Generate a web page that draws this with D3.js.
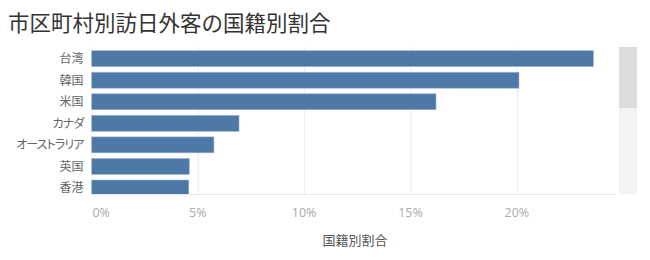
<!DOCTYPE html>
<html>
<head>
<meta charset="utf-8">
<script src="https://cdn.jsdelivr.net/npm/d3@7"></script>
<style>
  body { margin: 0; background: #fff; }
  svg { display: block; }
  text { font-family: "Noto Sans CJK JP", "Noto Sans", sans-serif; }
</style>
</head>
<body>
<svg id="chart" width="650" height="260"></svg>
<script>
const categories = ["台湾", "韓国", "米国", "カナダ", "オーストラリア", "英国", "香港"];
const values = [23.6, 20.1, 16.2, 6.94, 5.76, 4.6, 4.58];
const tickValues = [0, 5, 10, 15, 20];
const tickLabels = ["0%", "5%", "10%", "15%", "20%"];
const title = "市区町村別訪日外客の国籍別割合";
const axisTitle = "国籍別割合";

const svg = d3.select("#chart");
const plot = { left: 91.4, right: 616, top: 47, bottom: 194 };

const x = d3.scaleLinear().domain([0, 24.66]).range([plot.left, plot.right]);
const y = d3.scaleBand().domain(categories)
  .range([47.9, 47.9 + categories.length * 21.55])
  .paddingInner(0.26).paddingOuter(0.13);

svg.append("text").attr("x", 8).attr("y", 31)
  .attr("font-size", 21.5).attr("fill", "#333").text(title);

svg.append("defs").append("clipPath").attr("id", "clip")
  .append("rect").attr("x", plot.left).attr("y", plot.top)
  .attr("width", plot.right - plot.left).attr("height", plot.bottom - plot.top);

// gridlines
svg.append("g").selectAll("line").data(tickValues).join("line")
  .attr("x1", d => x(d) + 0.5).attr("x2", d => x(d) + 0.5)
  .attr("y1", plot.top).attr("y2", plot.bottom)
  .attr("stroke", d => d === 0 ? "#f3f3f3" : "#ececec").attr("stroke-width", 1);

// bottom border
svg.append("line").attr("x1", plot.left).attr("x2", plot.right)
  .attr("y1", plot.bottom + 0.5).attr("y2", plot.bottom + 0.5)
  .attr("stroke", "#e8e8e8");

// bars
svg.append("g").attr("clip-path", "url(#clip)")
  .selectAll("rect").data(categories).join("rect")
  .attr("x", x(0))
  .attr("y", d => y(d))
  .attr("width", (d, i) => x(values[i]) - x(0))
  .attr("height", y.bandwidth())
  .attr("fill", "#4e79a7")
  .attr("stroke", "#9fb6d0").attr("stroke-width", 0.6);

// category labels
svg.append("g").selectAll("text").data(categories).join("text")
  .attr("x", 83.5)
  .attr("y", d => y(d) + y.bandwidth() / 2)
  .attr("dy", "0.36em")
  .attr("text-anchor", "end")
  .attr("font-size", 12).attr("fill", "#666")
  .style("font-feature-settings", "'palt' 1")
  .style("letter-spacing", d => /[\u30A0-\u30FF]/.test(d) ? "-0.9px" : "0px")
  .text(d => d);

// x axis tick labels
svg.append("g").selectAll("text").data(tickValues).join("text")
  .attr("x", d => d === 0 ? x(d) + 1 : x(d))
  .attr("y", 217)
  .attr("text-anchor", d => d === 0 ? "start" : "middle")
  .attr("font-size", 12.5).attr("fill", "#aaa")
  .style("font-family", "'Open Sans', sans-serif")
  .text((d, i) => tickLabels[i]);

// axis title
svg.append("text").attr("x", 355).attr("y", 245)
  .attr("text-anchor", "middle").attr("font-size", 13).attr("fill", "#555")
  .text(axisTitle);

// scrollbar
svg.append("rect").attr("x", 619).attr("y", 47).attr("width", 18).attr("height", 147).attr("fill", "#f3f3f3");
svg.append("rect").attr("x", 619).attr("y", 47).attr("width", 18).attr("height", 61).attr("fill", "#dcdcdc");
</script>
</body>
</html>
